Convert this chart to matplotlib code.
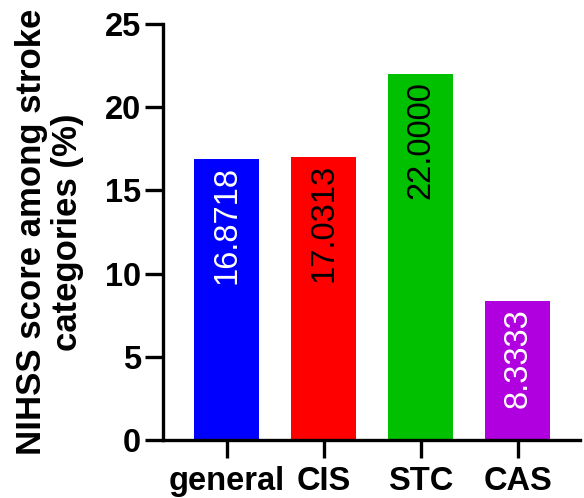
import matplotlib.pyplot as plt

categories = ["general", "CIS", "STC", "CAS"]
values = [16.8718, 17.0313, 22.0000, 8.3333]
label_texts = ["16.8718", "17.0313", "22.0000", "8.3333"]
colors = ["#0000FF", "#FF0000", "#00C000", "#B000E0"]
text_colors = ["white", "black", "black", "white"]

plt.rcParams["font.family"] = ["Liberation Sans", "DejaVu Sans"]

fig = plt.figure(figsize=(5.84, 4.98), dpi=100)
ax = fig.add_axes([0.279, 0.1165, 0.714, 0.8355])

x = range(len(categories))
bars = ax.bar(x, values, width=0.67, color=colors)

# 柱内竖排数值
for xi, v, t, c in zip(x, values, label_texts, text_colors):
    ax.annotate(t, (xi, v), xytext=(0, -5), textcoords="offset points",
                rotation=90, ha="center", va="top", color=c, fontsize=23.5)

ax.set_xlim(-0.66, 3.64)
ax.set_ylim(0, 25)
ax.set_yticks([0, 5, 10, 15, 20, 25])
ax.set_xticks(list(x))
ax.set_xticklabels(categories)

for s in ["top", "right"]:
    ax.spines[s].set_visible(False)
for s in ["left", "bottom"]:
    ax.spines[s].set_linewidth(2.4)

ax.tick_params(width=2.4, length=13, labelsize=23.5, pad=3)
ax.tick_params(axis="x", pad=6)
for lab in ax.get_xticklabels() + ax.get_yticklabels():
    lab.set_fontweight("bold")

ax.set_ylabel("NIHSS score among stroke\ncategories (%)", fontsize=25,
              fontweight="bold", labelpad=15, linespacing=1.1)

fig.savefig("out.png", dpi=100)
